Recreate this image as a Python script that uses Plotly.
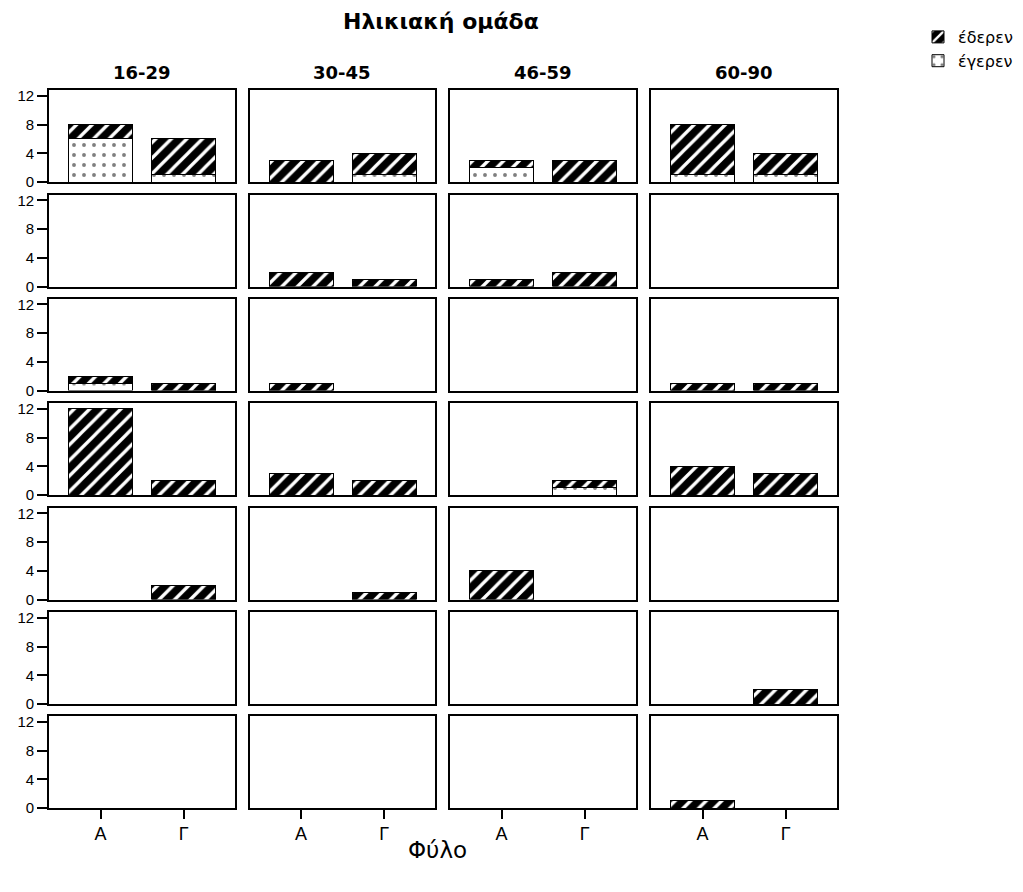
import plotly.graph_objects as go

W, H = 1023, 892

age_groups = ["16-29", "30-45", "46-59", "60-90"]
sexes = ["Α", "Γ"]

# counts per row: pairs (Α, Γ) for each age group, left to right
egeren = [
    [6, 1, 0, 1, 2, 0, 1, 1],
    [0, 0, 0, 0, 0, 0, 0, 0],
    [1, 0, 0, 0, 0, 0, 0, 0],
    [0, 0, 0, 0, 0, 1, 0, 0],
    [0, 0, 0, 0, 0, 0, 0, 0],
    [0, 0, 0, 0, 0, 0, 0, 0],
    [0, 0, 0, 0, 0, 0, 0, 0],
]
ederen = [
    [2, 5, 3, 3, 1, 3, 7, 3],
    [0, 0, 2, 1, 1, 2, 0, 0],
    [1, 1, 1, 0, 0, 0, 1, 1],
    [12, 2, 3, 2, 0, 1, 4, 3],
    [0, 2, 0, 1, 4, 0, 0, 0],
    [0, 0, 0, 0, 0, 0, 0, 2],
    [0, 0, 0, 0, 0, 0, 1, 0],
]
y_ticks = [0, 4, 8, 12]

SANS = "Liberation Sans, Arial, sans-serif"
WIDE = "DejaVu Sans, sans-serif"

# panel geometry in pixels
col_left = [49, 249.5, 450, 651]
col_w = 185.5
row_top = [90, 194.5, 298.5, 403, 507.5, 612, 716]
row_h = 92

fig = go.Figure()
layout = {}

n_rows, n_cols = len(row_top), len(age_groups)
for r in range(n_rows):
    for c in range(n_cols):
        k = r * n_cols + c + 1
        xa = "x" if k == 1 else f"x{k}"
        ya = "y" if k == 1 else f"y{k}"
        low = [v if v else None for v in egeren[r][2 * c:2 * c + 2]]
        high = [v if v else None for v in ederen[r][2 * c:2 * c + 2]]
        first = (k == 1)
        fig.add_trace(go.Bar(
            x=sexes, y=low, name="έγερεν", legendgroup="g", legendrank=2,
            showlegend=first, xaxis=xa, yaxis=ya, width=0.77,
            marker=dict(color="white", line=dict(color="black", width=1),
                        pattern=dict(shape=".", fgcolor="black", bgcolor="white",
                                     size=10, solidity=0.12)),
            hoverinfo="skip"))
        fig.add_trace(go.Bar(
            x=sexes, y=high, name="έδερεν", legendgroup="d", legendrank=1,
            showlegend=first, xaxis=xa, yaxis=ya, width=0.77,
            marker=dict(color="black", line=dict(color="black", width=1),
                        pattern=dict(shape="/", fgcolor="white", bgcolor="black",
                                     size=11, solidity=0.3, fillmode="replace")),
            hoverinfo="skip"))

        x0 = col_left[c] / W
        x1 = (col_left[c] + col_w) / W
        y1 = 1 - row_top[r] / H
        y0 = 1 - (row_top[r] + row_h) / H
        bottom = (r == n_rows - 1)
        left = (c == 0)
        layout["xaxis" if k == 1 else f"xaxis{k}"] = dict(
            domain=[x0, x1], anchor=ya, type="category",
            categoryorder="array", categoryarray=sexes,
            range=[-0.62, 1.61], showgrid=False, zeroline=False,
            showline=True, mirror=True, linecolor="black", linewidth=1.6,
            ticks="outside" if bottom else "", ticklen=9, tickwidth=1.5,
            tickcolor="black", showticklabels=bottom,
            tickfont=dict(family=SANS, size=18, color="black"))
        layout["yaxis" if k == 1 else f"yaxis{k}"] = dict(
            domain=[y0, y1], anchor=xa, range=[0, 12.8],
            tickvals=y_ticks, showgrid=False, zeroline=False,
            showline=True, mirror=True, linecolor="black", linewidth=1.6,
            ticks="outside" if left else "", ticklen=10, tickwidth=1.5,
            tickcolor="black", showticklabels=left, ticklabelstandoff=0,
            tickfont=dict(family=SANS, size=15, color="black"))

annotations = []
for c, g in enumerate(age_groups):
    annotations.append(dict(
        text=f"<b>{g}</b>", x=(col_left[c] + col_w / 2) / W, y=1 - 73 / H,
        xref="paper", yref="paper", xanchor="center", yanchor="middle",
        showarrow=False, font=dict(family=WIDE, size=18, color="black")))
annotations.append(dict(
    text="<b>Ηλικιακή ομάδα</b>", x=441 / W, y=1 - 22 / H,
    xref="paper", yref="paper", xanchor="center", yanchor="middle",
    showarrow=False, font=dict(family=WIDE, size=22, color="black")))
annotations.append(dict(
    text="Φύλο", x=437 / W, y=1 - 850 / H,
    xref="paper", yref="paper", xanchor="center", yanchor="middle",
    showarrow=False, font=dict(family=WIDE, size=23, color="black")))

fig.update_layout(
    width=W, height=H,
    margin=dict(l=0, r=0, t=0, b=0, autoexpand=False),
    paper_bgcolor="white", plot_bgcolor="white",
    barmode="stack", annotations=annotations,
    showlegend=True,
    legend=dict(x=918 / W, y=1 - 20 / H, xanchor="left", yanchor="top",
                font=dict(family=WIDE, size=16, color="black"),
                itemwidth=30, tracegroupgap=0, bgcolor="rgba(0,0,0,0)"),
    **layout)

fig.write_html("out.html")
